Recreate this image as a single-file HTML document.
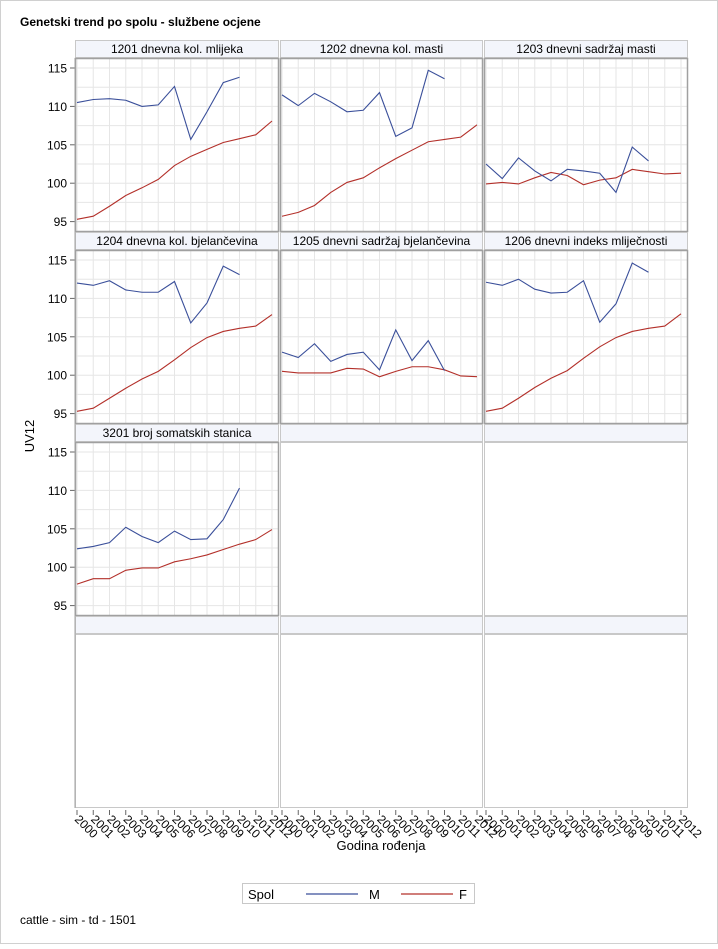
<!DOCTYPE html><html><head><meta charset="utf-8"><style>body{margin:0;background:#fff;font-family:"Liberation Sans",sans-serif}</style></head><body>
<svg id="s" width="718" height="944" xmlns="http://www.w3.org/2000/svg" font-family="Liberation Sans, sans-serif"></svg>
<script>
const s=document.getElementById('s');let h='';
h+='<rect x="0.5" y="0.5" width="717" height="943" fill="#fff" stroke="#d0d0d0"/>';
h+='<text x="20" y="26" font-size="12" font-weight="bold">Genetski trend po spolu - službene ocjene</text>';
const cols=[75,280,484],cw=[204,203,204],rows=[58,250,442,634];
const D=[
["1201 dnevna kol. mlijeka",[110.5,110.9,111.0,110.8,110.0,110.2,112.6,105.7,109.3,113.1,113.8],[95.3,95.7,97.0,98.4,99.4,100.5,102.3,103.5,104.4,105.3,105.8,106.3,108.1]],
["1202 dnevna kol. masti",[111.5,110.1,111.7,110.6,109.3,109.5,111.8,106.1,107.2,114.7,113.6],[95.7,96.2,97.1,98.8,100.1,100.7,102.0,103.2,104.3,105.4,105.7,106.0,107.6]],
["1203 dnevni sadržaj masti",[102.5,100.6,103.3,101.6,100.3,101.8,101.6,101.3,98.8,104.7,102.9],[99.9,100.1,99.9,100.7,101.4,101.0,99.8,100.4,100.7,101.8,101.5,101.2,101.3]],
["1204 dnevna kol. bjelančevina",[112.0,111.7,112.3,111.1,110.8,110.8,112.2,106.8,109.4,114.2,113.1],[95.3,95.7,97.0,98.3,99.5,100.5,102.0,103.6,104.9,105.7,106.1,106.4,107.9]],
["1205 dnevni sadržaj bjelančevina",[103.0,102.3,104.1,101.8,102.7,103.0,100.7,105.9,101.9,104.5,100.6],[100.5,100.3,100.3,100.3,100.9,100.8,99.8,100.5,101.1,101.1,100.7,99.9,99.8]],
["1206 dnevni indeks mliječnosti",[112.1,111.7,112.5,111.2,110.7,110.8,112.3,106.9,109.3,114.6,113.4],[95.3,95.7,97.0,98.4,99.6,100.6,102.2,103.7,104.9,105.7,106.1,106.4,108.0]],
["3201 broj somatskih stanica",[102.4,102.7,103.2,105.2,104.0,103.2,104.7,103.6,103.7,106.2,110.3],[97.8,98.5,98.5,99.6,99.9,99.9,100.7,101.1,101.6,102.3,103.0,103.6,104.9]]];
const Y=(r,v)=>rows[r]+10+(115-v)*7.68, X=(c,i)=>cols[c]+2+16.25*i;
for(let r=0;r<4;r++)for(let c=0;c<3;c++){
 const k=r*3+c,x0=cols[c],w=cw[c],y0=rows[r];const d=D[k];
 h+=`<rect x="${x0+0.5}" y="${y0-17.5}" width="${w-1}" height="17" fill="#f3f5fb" stroke="#c8c8c8"/>`;
 if(d)h+=`<text x="${x0+w/2}" y="${y0-5}" font-size="12" text-anchor="middle">${d[0]}</text>`;
 if(d){for(let i=0;i<13;i++)h+=`<line x1="${X(c,i)}" x2="${X(c,i)}" y1="${y0}" y2="${y0+174}" stroke="#e6e6e6"/>`;
 for(let v=92.5;v<=117.5;v+=2.5){const yy=Y(r,v);if(yy>y0&&yy<y0+174)h+=`<line x1="${x0}" x2="${x0+w}" y1="${yy}" y2="${yy}" stroke="#e6e6e6"/>`;}
 const pl=(a,col)=>`<polyline fill="none" stroke="${col}" stroke-width="1.1" points="${a.map((v,i)=>X(c,i)+','+Y(r,v)).join(' ')}"/>`;
 h+=pl(d[2],'#b3302a')+pl(d[1],'#3a4f9a');}
 h+=`<rect x="${x0+0.5}" y="${y0+0.5}" width="${w-1}" height="173" fill="none" stroke="${d?'#a0a0a0':'#c8c8c8'}" stroke-width="${d?1.5:1}"/>`;
 if(c==0&&r<3)for(let v=95;v<=115;v+=5){const yy=Y(r,v);h+=`<line x1="70" x2="75" y1="${yy}" y2="${yy}" stroke="#666"/><text x="67" y="${yy+4.5}" font-size="12" text-anchor="end">${v}</text>`;}
 if(r==3)for(let i=0;i<13;i++){const xx=X(c,i);h+=`<line x1="${xx}" x2="${xx}" y1="810" y2="815" stroke="#666"/><text transform="translate(${xx-3},${820}) rotate(45)" font-size="12">${2000+i}</text>`;}
}
h+='<line x1="75" x2="75" y1="58" y2="808" stroke="#a0a0a0"/>';
h+='<text transform="translate(34,436) rotate(-90)" font-size="13" text-anchor="middle">UV12</text>';
h+='<text x="381" y="850" font-size="13" text-anchor="middle">Godina rođenja</text>';
h+='<rect x="242.5" y="883.5" width="232" height="20" fill="#fff" stroke="#c8c8c8"/>';
h+='<text x="248" y="899" font-size="13">Spol</text><line x1="306" x2="358" y1="894" y2="894" stroke="#3a4f9a" stroke-width="1.2"/><text x="369" y="899" font-size="13">M</text>';
h+='<line x1="401" x2="453" y1="894" y2="894" stroke="#b3302a" stroke-width="1.2"/><text x="459" y="899" font-size="13">F</text>';
h+='<text x="20" y="924" font-size="12">cattle - sim - td - 1501</text>';
s.innerHTML=h;
</script></body></html>
